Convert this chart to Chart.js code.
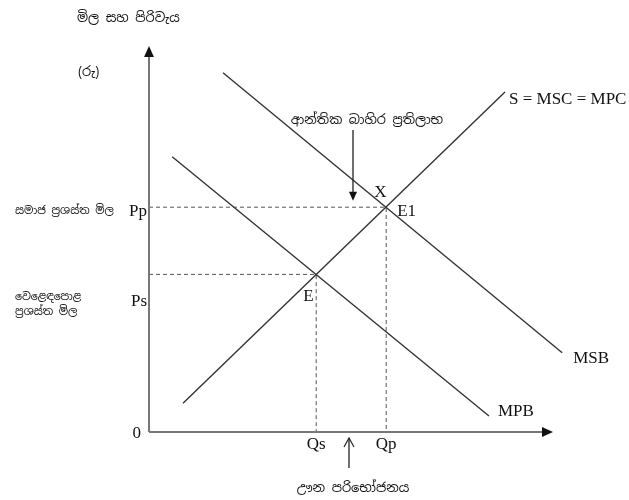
<!DOCTYPE html>
<html>
<head>
<meta charset="utf-8">
<script src="https://cdn.jsdelivr.net/npm/chart.js@4"></script>
<style>
  body { margin: 0; background: #fff; }
  #wrap { width: 629px; height: 500px; }
</style>
</head>
<body>
<div id="wrap"><canvas id="myChart"></canvas></div>
<script>
// curves: S = MSC = MPC, MSB, MPB (end points)
const lineNames = ['S = MSC = MPC', 'MSB', 'MPB'];
const lineX = [[0.85, 8.9], [1.85, 10.33], [0.58, 8.5]];
const lineY = [[0.72, 8.5], [8.98, 1.98], [6.88, 0.4]];

// equilibria E and E1
const pointNames = ['E', 'E1'];
const quantity = [4.18, 5.93];   // Qs, Qp
const price = [3.94, 5.62];      // Ps, Pp
const qTicks = ['Qs', 'Qp'];
const pTicks = ['Ps', 'Pp'];

const yTitle = 'මිල සහ පිරිවැය';
const yUnit = '(රු)';
const xTitle = 'ඌන පරිභෝජනය';
const externalBenefit = 'ආන්තික බාහිර ප්‍රතිලාභ';
const priceNames = [['වෙළෙඳපොළ', 'ප්‍රශස්ත මිල'], ['සමාජ ප්‍රශස්ත මිල']];

const serif = '"Liberation Serif", "Times New Roman", serif';
const sinhala = '"Noto Sans Sinhala", "Noto Serif Sinhala", "Noto Sans", sans-serif';

const datasets = [];
lineNames.forEach((name, i) => {
    datasets.push({
        label: name,
        data: [{x: lineX[i][0], y: lineY[i][0]}, {x: lineX[i][1], y: lineY[i][1]}],
        borderColor: '#333',
        borderWidth: 1.4,
        pointRadius: 0,
        showLine: true
    });
});
pointNames.forEach((name, i) => {
    datasets.push({
        label: name,
        data: [{x: 0, y: price[i]}, {x: quantity[i], y: price[i]}, {x: quantity[i], y: 0}],
        borderColor: '#555',
        borderWidth: 1,
        borderDash: [4, 3],
        pointRadius: 0,
        showLine: true
    });
});

function arrowHead(c, x, y, dir, size) {
    c.save();
    c.translate(x, y);
    c.rotate(dir);
    c.beginPath();
    c.moveTo(0, 0);
    c.lineTo(-size, -size * 0.45);
    c.lineTo(-size, size * 0.45);
    c.closePath();
    c.fill();
    c.restore();
}

const drawing = {
    id: 'drawing',
    afterDatasetsDraw(chart) {
        const c = chart.ctx;
        const xs = chart.scales.x, ys = chart.scales.y;
        const px = v => xs.getPixelForValue(v);
        const py = v => ys.getPixelForValue(v);
        const x0 = px(0), y0 = py(0);

        // axes
        c.save();
        c.strokeStyle = '#777';
        c.fillStyle = '#111';
        c.lineWidth = 2;
        c.beginPath();
        c.moveTo(x0, y0);
        c.lineTo(x0, py(9.55));
        c.moveTo(x0, y0);
        c.lineTo(px(10.05), y0);
        c.stroke();
        arrowHead(c, x0, py(9.65), -Math.PI / 2, 11);
        arrowHead(c, px(10.1), y0, 0, 11);

        // annotation arrows
        c.strokeStyle = '#222';
        c.lineWidth = 1.3;
        c.beginPath();
        c.moveTo(px(5.1), py(7.55));
        c.lineTo(px(5.1), py(5.9));
        c.stroke();
        arrowHead(c, px(5.1), py(5.78), Math.PI / 2, 9);
        c.beginPath();
        c.moveTo(px(5.0), py(-0.9));
        c.lineTo(px(5.0), py(-0.15));
        c.stroke();
        c.lineWidth = 1.2;
        c.beginPath();
        c.moveTo(px(5.0) - 5, py(-0.15) + 9);
        c.lineTo(px(5.0), py(-0.15));
        c.lineTo(px(5.0) + 5, py(-0.15) + 9);
        c.stroke();

        // latin labels
        c.fillStyle = '#111';
        c.font = '17px ' + serif;
        c.textBaseline = 'middle';
        c.textAlign = 'center';
        qTicks.forEach((t, i) => c.fillText(t, px(quantity[i]), y0 + 13));
        c.textAlign = 'right';
        c.fillText(pTicks[0], x0 - 2, py(price[0]) + 27);
        c.fillText(pTicks[1], x0 - 2, py(price[1]) + 4);
        c.fillText('0', x0 - 8, y0 + 2);
        c.textAlign = 'left';
        c.fillText(lineNames[0], px(lineX[0][1]) + 4, py(lineY[0][1]) + 8);
        c.fillText(lineNames[1], px(lineX[1][1]) + 11, py(lineY[1][1]) + 6);
        c.fillText(lineNames[2], px(lineX[2][1]) + 9, py(lineY[2][1]) - 4);
        c.fillText(pointNames[0], px(quantity[0]) - 13, py(price[0]) + 22);
        c.fillText(pointNames[1], px(quantity[1]) + 11, py(price[1]) + 4);
        c.fillText('X', px(quantity[1]) - 12, py(price[1]) - 15);

        // sinhala labels
        c.font = '13px ' + sinhala;
        c.textAlign = 'left';
        c.fillText(yTitle, 77, 18);
        c.fillText(yUnit, 78, 72);
        c.textAlign = 'center';
        c.fillText(externalBenefit, px(5.45), py(7.8));
        c.fillText(xTitle, px(5.1), py(-1.4));
        c.font = '11px ' + sinhala;
        c.textAlign = 'left';
        c.fillText(priceNames[1][0], 15, py(price[1]) + 4);
        c.fillText(priceNames[0][0], 15, py(price[0]) + 23);
        c.fillText(priceNames[0][1], 15, py(price[0]) + 38);
        c.restore();
    }
};

const ctx = document.getElementById('myChart').getContext('2d');
const myChart = new Chart(ctx, {
    type: 'scatter',
    data: { datasets: datasets },
    options: {
        responsive: true,
        maintainAspectRatio: false,
        animation: false,
        layout: { padding: { left: 149, right: 40, top: 32, bottom: 68 } },
        scales: {
            x: { type: 'linear', min: 0, max: 11, display: false },
            y: { type: 'linear', min: 0, max: 10, display: false }
        },
        plugins: {
            legend: { display: false },
            tooltip: { enabled: false }
        }
    },
    plugins: [drawing]
});
</script>
</body>
</html>
